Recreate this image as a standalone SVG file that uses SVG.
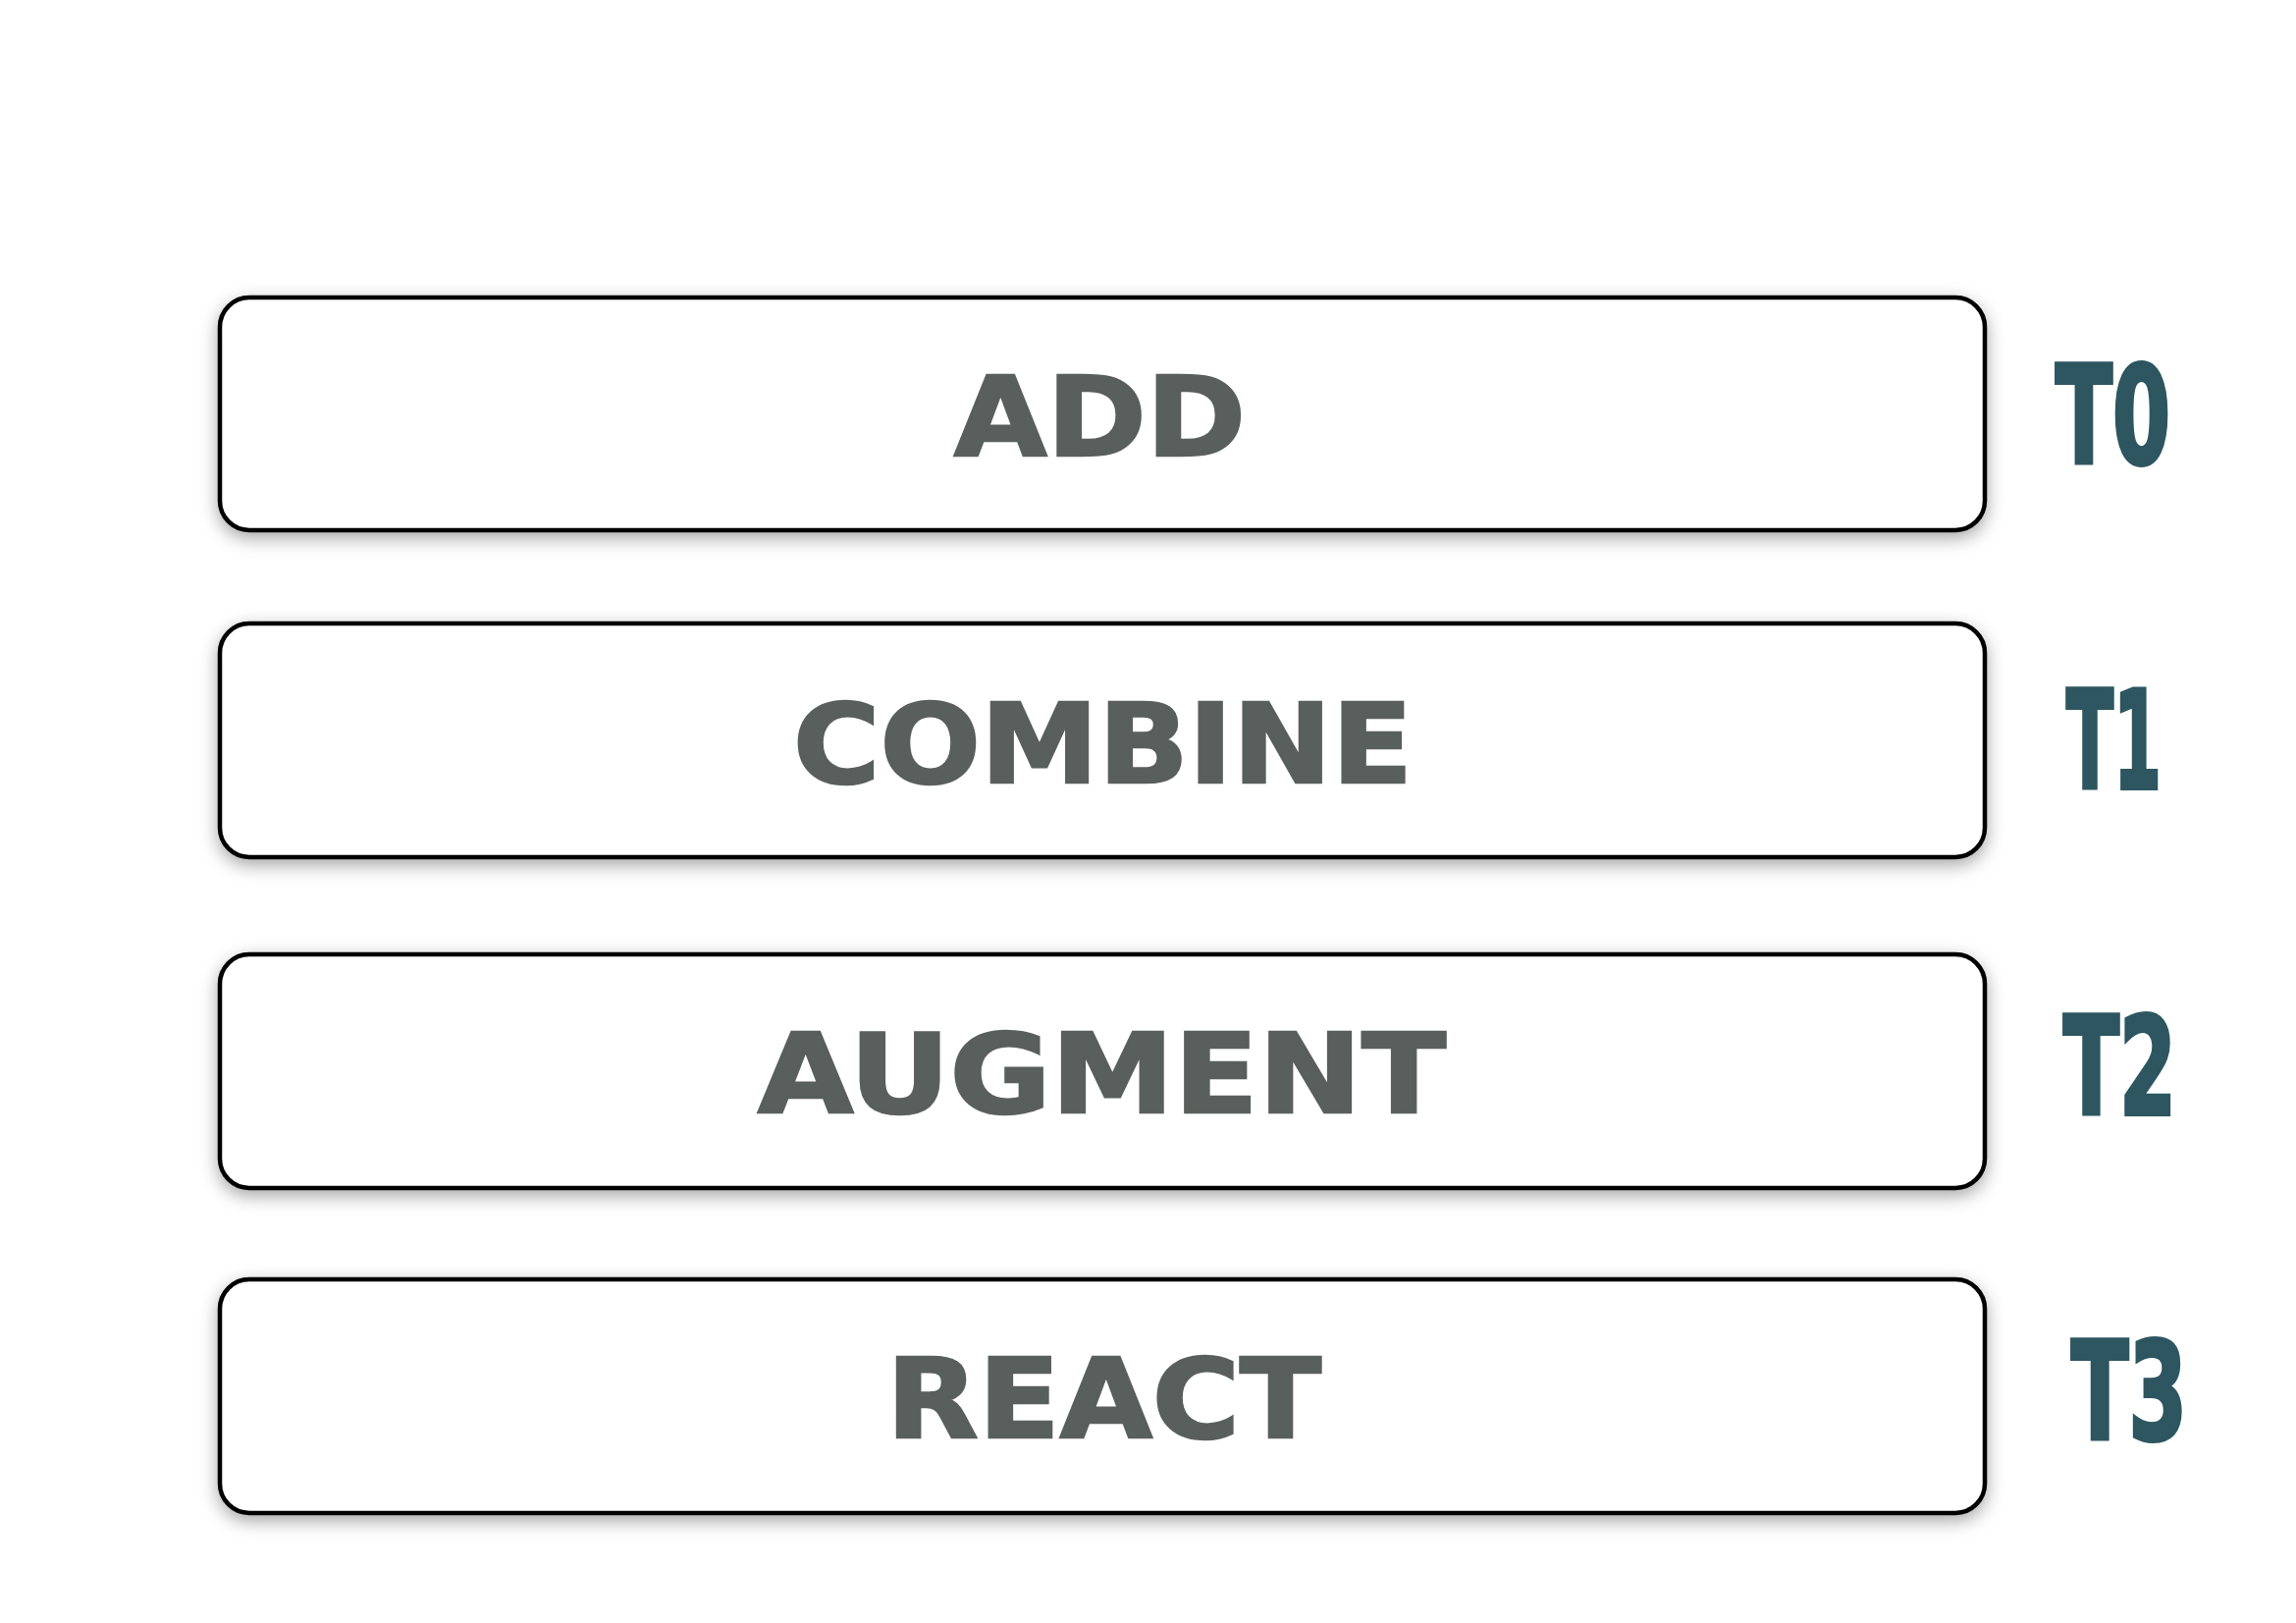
<svg xmlns="http://www.w3.org/2000/svg" width="2339" height="1653" viewBox="0 0 2339 1653">
  <defs>
    <filter id="soft-shadow" x="-5%" y="-30%" width="110%" height="160%">
      <feDropShadow dx="0" dy="6" stdDeviation="9" flood-color="#000" flood-opacity="0.35"/>
    </filter>
  </defs>
  <style>
    .box { fill: #ffffff; stroke: #000000; stroke-width: 4.5; filter: url(#soft-shadow); }
    .step { font-family: "DejaVu Sans", "Liberation Sans", sans-serif; font-weight: bold; font-size: 112px; fill: #595f5c; stroke: #595f5c; stroke-width: 2.5; stroke-linejoin: miter; }
    .tag { font-family: "Liberation Sans Narrow", "DejaVu Sans Condensed", "Liberation Sans", sans-serif; font-weight: bold; font-size: 139px; fill: #2d5660; stroke: #2d5660; stroke-width: 4; stroke-linejoin: miter; }
  </style>
  <rect width="2339" height="1653" fill="#ffffff"/>

  <g id="connectors"/>

  <g id="node-add">
    <rect class="box" x="224" y="303" width="1798" height="237" rx="30" ry="30"/>
    <text class="step" x="972" y="464" textLength="297" lengthAdjust="spacingAndGlyphs">ADD</text>
  </g>
  <g id="tag-t0">
    <text class="tag" x="2094" y="472" textLength="117" lengthAdjust="spacingAndGlyphs">T0</text>
  </g>

  <g id="node-combine">
    <rect class="box" x="224" y="635" width="1798" height="238" rx="30" ry="30"/>
    <text class="step" x="808" y="797" textLength="631" lengthAdjust="spacingAndGlyphs">COMBINE</text>
  </g>
  <g id="tag-t1">
    <text class="tag" x="2105" y="803" textLength="97" lengthAdjust="spacingAndGlyphs">T1</text>
  </g>

  <g id="node-augment">
    <rect class="box" x="224" y="972" width="1798" height="238" rx="30" ry="30"/>
    <text class="step" x="772" y="1133" textLength="701" lengthAdjust="spacingAndGlyphs">AUGMENT</text>
  </g>
  <g id="tag-t2">
    <text class="tag" x="2102" y="1135" textLength="115" lengthAdjust="spacingAndGlyphs">T2</text>
  </g>

  <g id="node-react">
    <rect class="box" x="224" y="1303" width="1798" height="238" rx="30" ry="30"/>
    <text class="step" x="903" y="1464" textLength="443" lengthAdjust="spacingAndGlyphs">REACT</text>
  </g>
  <g id="tag-t3">
    <text class="tag" x="2110" y="1466" textLength="118" lengthAdjust="spacingAndGlyphs">T3</text>
  </g>
</svg>
